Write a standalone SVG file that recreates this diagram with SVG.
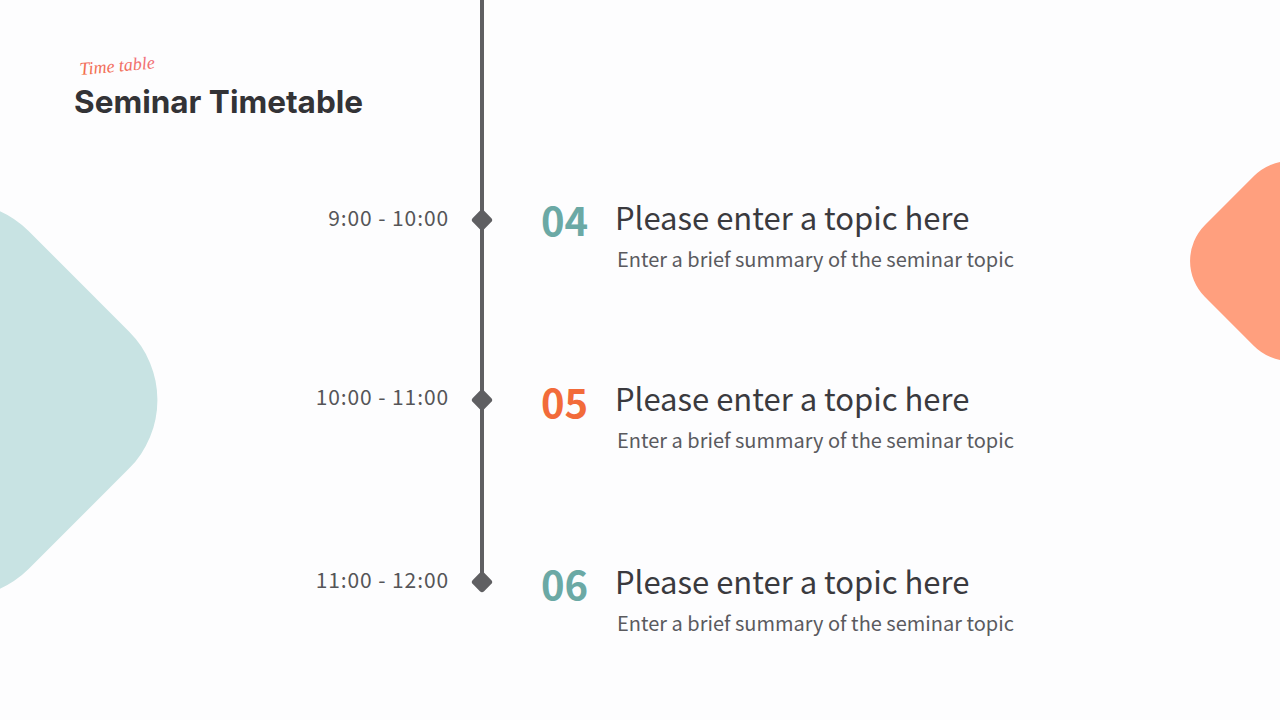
<svg xmlns="http://www.w3.org/2000/svg" width="1280" height="720" viewBox="0 0 1280 720">
<defs>
<linearGradient id="script" x1="0" y1="1" x2="1" y2="0">
<stop offset="0" stop-color="#F26B3A"/><stop offset="1" stop-color="#F0708A"/>
</linearGradient>
<style>
.time{font-family:"Noto Sans CJK SC","Noto Sans",sans-serif;font-size:21px;fill:#555558;text-anchor:end;letter-spacing:0.9px}
.num{font-family:"Noto Sans CJK SC","Noto Sans",sans-serif;font-size:40px;font-weight:700}
.topic{font-family:"Noto Sans CJK SC","Noto Sans",sans-serif;font-size:31px;fill:#3A3A3E}
.sum{font-family:"Noto Sans CJK SC","Noto Sans",sans-serif;font-size:20px;fill:#5A5A5E}
.dot{fill:#5F5F62}
</style>
</defs>
<rect width="1280" height="720" fill="#FDFDFE"/>
<g id="deco">
<rect x="-208" y="232" width="336" height="336" rx="97" fill="#C8E3E3" transform="rotate(45 -40 400)"/>
<rect x="1204.4" y="175.4" width="171.2" height="171.2" rx="51" fill="#FF9F7E" transform="rotate(45 1290 261)"/>
</g>
<g id="header">
<text x="80" y="75" font-family="Liberation Serif,serif" font-style="italic" font-size="18" fill="url(#script)" transform="rotate(-5 80 75)">Time table</text>
<text x="74" y="113" font-family="Inter,Roboto,sans-serif" font-weight="700" font-size="31.5" fill="#333336">Seminar Timetable</text>
</g>
<g id="connectors">
<line x1="482" y1="0" x2="482" y2="582" stroke="#5F5F62" stroke-width="4"/>
</g>
<g id="row1">
<rect class="dot" x="474" y="212" width="16" height="16" rx="3" transform="rotate(45 482 220)"/>
<text class="time" x="449" y="226">9:00 - 10:00</text>
<text class="num" x="541" y="236" fill="#6BA9A5">04</text>
<text class="topic" x="615" y="230">Please enter a topic here</text>
<text class="sum" x="617" y="267">Enter a brief summary of the seminar topic</text>
</g>
<g id="row2">
<rect class="dot" x="474" y="392" width="16" height="16" rx="3" transform="rotate(45 482 400)"/>
<text class="time" x="449" y="405">10:00 - 11:00</text>
<text class="num" x="541" y="418" fill="#F26B3A">05</text>
<text class="topic" x="615" y="411">Please enter a topic here</text>
<text class="sum" x="617" y="448">Enter a brief summary of the seminar topic</text>
</g>
<g id="row3">
<rect class="dot" x="474" y="574" width="16" height="16" rx="3" transform="rotate(45 482 582)"/>
<text class="time" x="449" y="588">11:00 - 12:00</text>
<text class="num" x="541" y="600" fill="#6BA9A5">06</text>
<text class="topic" x="615" y="594">Please enter a topic here</text>
<text class="sum" x="617" y="631">Enter a brief summary of the seminar topic</text>
</g>
</svg>
